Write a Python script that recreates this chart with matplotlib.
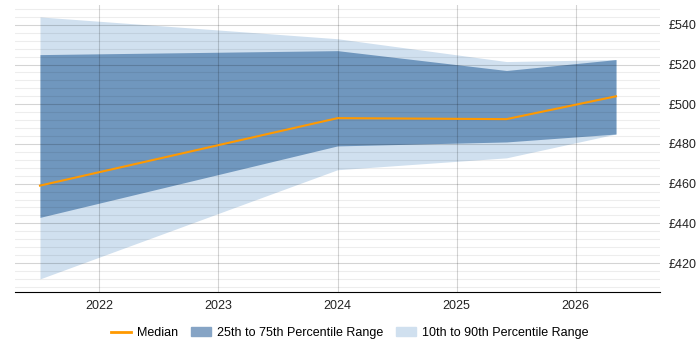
import matplotlib.pyplot as plt
from matplotlib.ticker import MultipleLocator, FuncFormatter
from matplotlib.patches import Patch
from matplotlib.lines import Line2D

plt.rcParams['font.family'] = ['Liberation Sans', 'DejaVu Sans']

years = [2021.5, 2024.0, 2025.42, 2026.34]
p10 = [412, 467, 473, 485]
p25 = [443, 479, 481, 485]
median = [459, 493, 492.5, 504]
p75 = [525, 527, 517, 522.5]
p90 = [544, 533, 521.5, 522.5]

light = "#d0e0ef"
dark = "#7097be"
orange = "#ff9900"

fig = plt.figure(figsize=(7, 3.5), dpi=100)
ax = fig.add_axes([15 / 700, 58 / 350, 645 / 700, 287 / 350])

ax.fill_between(years, p10, p90, color=light, lw=0, zorder=1)
ax.fill_between(years, p25, p75, color=dark, lw=0, zorder=2)
ax.plot(years, median, color=orange, lw=1.5, zorder=6)

ax.set_xlim(2021.29, 2026.71)
ax.set_ylim(405.4, 550)
ax.set_xticks([2022, 2023, 2024, 2025, 2026])
ax.xaxis.set_major_formatter(FuncFormatter(lambda v, p: f"{int(v)}"))
ax.yaxis.set_major_locator(MultipleLocator(20))
ax.yaxis.set_minor_locator(MultipleLocator(4))
ax.yaxis.set_major_formatter(FuncFormatter(lambda v, p: f"£{int(v)}"))
ax.yaxis.tick_right()

# grid drawn over the fills, semi transparent so it shows through
ax.set_axisbelow(False)
ax.grid(axis="y", which="minor", color="black", alpha=0.07, lw=0.8, zorder=3)
ax.grid(axis="y", which="major", color="black", alpha=0.17, lw=0.8, zorder=3)
ax.grid(axis="x", which="major", color="black", alpha=0.17, lw=0.8, zorder=3)

for s in ["top", "left", "right"]:
    ax.spines[s].set_visible(False)
ax.spines["bottom"].set_color("black")
ax.tick_params(axis="both", which="both", length=0, labelsize=9, colors="#222222")
ax.tick_params(axis="x", pad=6)
ax.tick_params(axis="y", pad=6)

handles = [
    Line2D([0], [0], color=orange, lw=2),
    Patch(color="#86a4c5"),
    Patch(color=light),
]
labels = ["Median", "25th to 75th Percentile Range", "10th to 90th Percentile Range"]
fig.legend(handles, labels, loc="center", bbox_to_anchor=(0.5, 17 / 350), ncol=3,
           frameon=False, fontsize=9, handlelength=1.6, columnspacing=1.0, handletextpad=0.5)

fig.savefig("out.png")
